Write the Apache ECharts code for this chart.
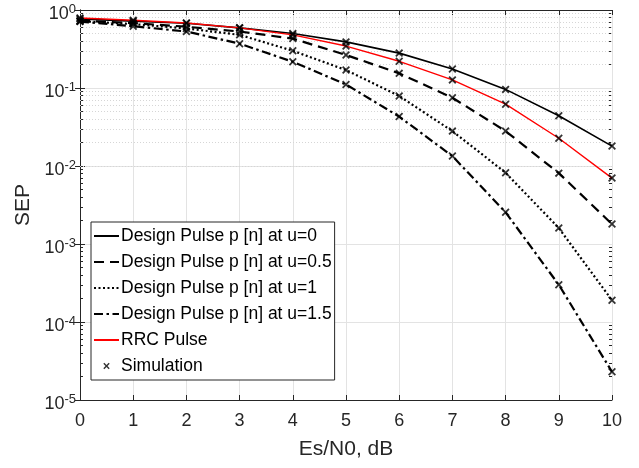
<!DOCTYPE html>
<html><head><meta charset="utf-8">
<script src="https://cdn.jsdelivr.net/npm/echarts@6/dist/echarts.min.js"></script>
<style>html,body{margin:0;padding:0;background:#fff}#c{width:639px;height:468px}</style>
</head><body><div id="c"></div>
<script>
const esn0 = [0,1,2,3,4,5,6,7,8,9,10];
const sepU0   = [0.77,0.72,0.675,0.59,0.50,0.39,0.28,0.175,0.096,0.044,0.018];
const sepU05  = [0.73,0.68,0.61,0.53,0.43,0.265,0.154,0.075,0.028,0.0081,0.0018];
const sepU1   = [0.72,0.66,0.58,0.48,0.30,0.17,0.079,0.028,0.0082,0.0016,0.00019];
const sepU15  = [0.71,0.62,0.53,0.37,0.217,0.111,0.043,0.0134,0.00255,0.00030,0.000023];
const sepRRC  = [0.79,0.74,0.68,0.59,0.48,0.345,0.22,0.127,0.062,0.0227,0.0070];
const seriesNames = ['Design Pulse p [n] at u=0','Design Pulse p [n] at u=0.5','Design Pulse p [n] at u=1','Design Pulse p [n] at u=1.5','RRC Pulse','Simulation'];
const xTicks = [0,1,2,3,4,5,6,7,8,9,10];

const minorGrid = [];
for (let e=-5; e<0; e++) for (let m=2; m<=9; m++) minorGrid.push(m*Math.pow(10,e));

const pair = arr => esn0.map((x,i)=>[x,arr[i]]);
const simPts = [].concat(pair(sepU0),pair(sepU05),pair(sepU1),pair(sepU15),pair(sepRRC));

const xPath = 'path://M0,1.6L1.6,0L5,3.4L8.4,0L10,1.6L6.6,5L10,8.4L8.4,10L5,6.6L1.6,10L0,8.4L3.4,5Z';
const xPathLegend = 'path://M-6,-6M16,16M0,1.6L1.6,0L5,3.4L8.4,0L10,1.6L6.6,5L10,8.4L8.4,10L5,6.6L1.6,10L0,8.4L3.4,5Z';
const FONT = 'Liberation Sans';
const AX = '#262626';

const chart = echarts.init(document.getElementById('c'), null, {renderer:'canvas'});
const yFmt = v => '{b|10}{s|' + Math.round(Math.log10(v)) + '}';
const hiddenIcon = {opacity:0, color:'rgba(0,0,0,0)', borderColor:'rgba(0,0,0,0)', borderWidth:0};
const minorAxis = pos => ({
  type:'log',logBase:10,min:1e-5,max:1,position:pos,
  axisLine:{show:false},
  axisTick:{show:true,inside:true,length:3,customValues:minorGrid,lineStyle:{color:AX}},
  axisLabel:{show:false},splitLine:{show:false}
});
chart.setOption({
  animation:false,
  backgroundColor:'#fff',
  grid:{left:80,right:27,top:10,bottom:68},
  textStyle:{fontFamily:FONT},
  xAxis:[{
    type:'value',min:0,max:10,interval:1,
    name:'Es/N0, dB',nameLocation:'middle',nameGap:39,
    nameTextStyle:{fontSize:21,color:AX,fontFamily:FONT},
    axisLine:{lineStyle:{color:AX,width:1}},
    axisTick:{inside:true,length:5,lineStyle:{color:AX}},
    axisLabel:{fontSize:18,color:AX,margin:12,fontFamily:FONT,formatter:v=>String(v)},
    splitLine:{show:true,lineStyle:{color:'#e3e3e3',width:1}}
  },{
    type:'value',min:0,max:10,interval:1,position:'top',
    axisLine:{show:true,lineStyle:{color:AX,width:1}},
    axisTick:{inside:true,length:5,lineStyle:{color:AX}},
    axisLabel:{show:false},splitLine:{show:false}
  }],
  yAxis:[{
    type:'log',logBase:10,min:1e-5,max:1,
    name:'SEP',nameLocation:'middle',nameGap:35,nameRotate:90,
    nameTextStyle:{fontSize:21,color:AX,fontFamily:FONT},
    axisLine:{show:true,lineStyle:{color:AX,width:1}},
    axisTick:{inside:true,length:5,lineStyle:{color:AX}},
    axisLabel:{margin:4,formatter:yFmt,padding:[4,0,0,0],rich:{
      b:{fontSize:18,color:AX,fontFamily:FONT,lineHeight:18,padding:[5,0,0,0]},
      s:{fontSize:13,color:AX,fontFamily:FONT,lineHeight:13,verticalAlign:'top'}
    }},
    splitLine:{show:true,lineStyle:{color:'#e3e3e3',width:1}}
  },{
    type:'log',logBase:10,min:1e-5,max:1,position:'right',
    axisLine:{show:true,lineStyle:{color:AX,width:1}},
    axisTick:{inside:true,length:5,lineStyle:{color:AX}},
    axisLabel:{show:false},splitLine:{show:false}
  }, minorAxis('left'), minorAxis('right')],
  legend:{
    orient:'vertical',left:91,top:222,
    backgroundColor:'#fff',borderColor:AX,borderWidth:1,borderRadius:0,
    padding:[5,3,5,2],itemWidth:25,itemHeight:14,itemGap:8,
    textStyle:{fontSize:17.5,color:'#000',fontFamily:FONT,padding:[0,0,0,-3]},
    data:[
      {name:seriesNames[0],itemStyle:hiddenIcon},{name:seriesNames[1],itemStyle:hiddenIcon},
      {name:seriesNames[2],itemStyle:hiddenIcon},{name:seriesNames[3],itemStyle:hiddenIcon},
      {name:seriesNames[4],itemStyle:hiddenIcon},
      {name:seriesNames[5],icon:xPathLegend}
    ]
  },
  series:[
    {name:seriesNames[0],type:'line',data:pair(sepU0),showSymbol:false,symbol:'none',
     lineStyle:{color:'#000',width:1.6,type:'solid'},itemStyle:{color:'#000'},z:3,
     markLine:{silent:true,symbol:'none',z:1,animation:false,label:{show:false},
       lineStyle:{color:'#d6d6d6',type:[1,2],width:1},
       emphasis:{disabled:true},
       data:minorGrid.map(v=>({yAxis:v}))}},
    {name:seriesNames[1],type:'line',data:pair(sepU05),showSymbol:false,symbol:'none',
     lineStyle:{color:'#000',width:2.2,type:[10,6]},itemStyle:{color:'#000'},z:3},
    {name:seriesNames[2],type:'line',data:pair(sepU1),showSymbol:false,symbol:'none',
     lineStyle:{color:'#000',width:2.2,type:[2,2.5]},itemStyle:{color:'#000'},z:3},
    {name:seriesNames[3],type:'line',data:pair(sepU15),showSymbol:false,symbol:'none',
     lineStyle:{color:'#000',width:2.2,type:[9,3.5,2.5,3.5]},itemStyle:{color:'#000'},z:3},
    {name:seriesNames[4],type:'line',data:pair(sepRRC),showSymbol:false,symbol:'none',
     lineStyle:{color:'#ff0000',width:1.4,type:'solid'},itemStyle:{color:'#ff0000'},z:4},
    {name:seriesNames[5],type:'scatter',data:simPts,symbol:xPath,symbolSize:8,
     itemStyle:{color:'#000'},z:5}
  ]
});
</script></body></html>
